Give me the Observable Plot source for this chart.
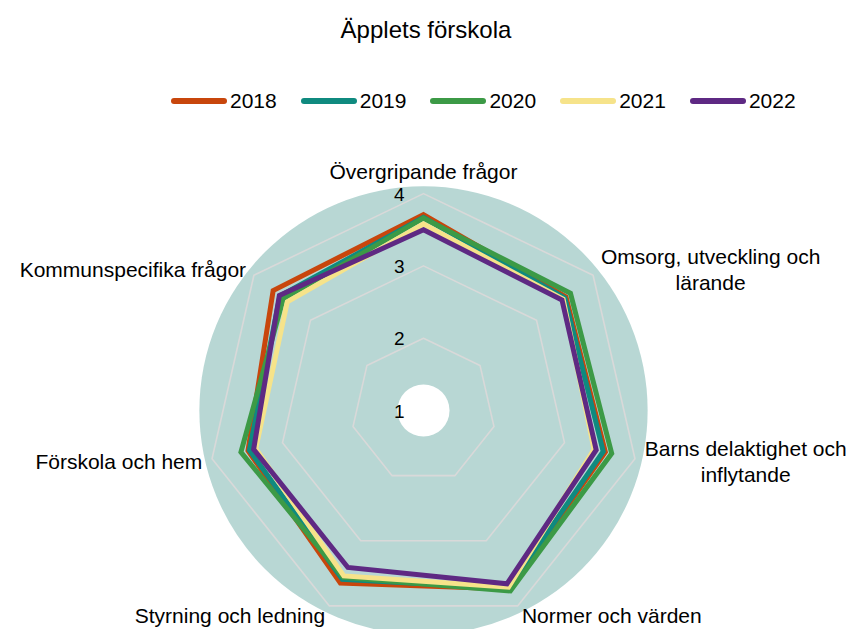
<!DOCTYPE html>
<html><head><meta charset="utf-8">
<script src="https://cdn.jsdelivr.net/npm/d3@7"></script>
<script src="https://cdn.jsdelivr.net/npm/@observablehq/plot@0.6"></script>
<style>
body{margin:0;background:#fff;font-family:"Liberation Sans",Arial,sans-serif;}
#wrap{position:relative;width:852px;height:629px;overflow:hidden;}
#title{position:absolute;top:16px;left:0;width:852px;text-align:center;font-size:24px;line-height:28px;color:#000;}
#legend{position:absolute;top:89px;left:171px;display:flex;align-items:center;font-size:21px;line-height:24px;color:#000;}
.item{display:flex;align-items:center;margin-right:24px;}
.sw{width:56px;height:6px;border-radius:3px;margin-right:3px;}
#chart{position:absolute;top:140px;left:0;}
</style></head><body>
<div id="wrap"><div id="title">Äpplets förskola</div><div id="legend"></div><div id="chart"></div></div>
<script>
const categories = ["Övergripande frågor","Omsorg, utveckling och lärande","Barns delaktighet och inflytande","Normer och värden","Styrning och ledning","Förskola och hem","Kommunspecifika frågor"];
const axisLabels = ["Övergripande frågor","Omsorg, utveckling och\nlärande","Barns delaktighet och\ninflytande","Normer och värden","Styrning och ledning","Förskola och hem","Kommunspecifika frågor"];
const years = ["2018","2019","2020","2021","2022"];
const values2018 = [3.71,3.52,3.58,3.74,3.65,3.49,3.66];
const values2019 = [3.67,3.50,3.55,3.73,3.59,3.47,3.54];
const values2020 = [3.66,3.60,3.67,3.77,3.56,3.59,3.48];
const values2021 = [3.58,3.47,3.42,3.71,3.54,3.38,3.41];
const values2022 = [3.50,3.45,3.45,3.66,3.41,3.41,3.55];
const colors = ["#C8460C","#0F8A7F","#3C9A46","#F6E38A","#5E2983"];
const ticks = [1,2,3,4];
const tickLabels = ["1","2","3","4"];
const rMin = 1, rMax = 4, bgOuter = 4.1, bgHole = 1.36;

const series = [values2018,values2019,values2020,values2021,values2022];
const W = 852, H = 489, cx = 423, cy = 270, k = 72.3;
const n = categories.length;
const ang = i => i * 2 * Math.PI / n;
const px = (v,i) => (v - rMin) * Math.sin(ang(i));
const py = (v,i) => (v - rMin) * Math.cos(ang(i));

// legend
const leg = document.getElementById("legend");
years.forEach((y,i)=>{
  const it = document.createElement("div"); it.className="item";
  const sw = document.createElement("div"); sw.className="sw"; sw.style.background=colors[i];
  const t = document.createElement("span"); t.textContent=y;
  it.append(sw,t); leg.append(it);
});

const rows = [];
years.forEach((y,s)=>series[s].forEach((v,i)=>rows.push({year:y, cat:categories[i], x:px(v,i), y:py(v,i)})));
const grid = [];
ticks.filter(t=>t>rMin).forEach(t=>categories.forEach((c,i)=>grid.push({t, x:px(t,i), y:py(t,i)})));

// axis labels
const FS = 21, LH = 1.2;
const ctx = document.createElement("canvas").getContext("2d");
ctx.font = `${FS}px "Liberation Sans", Arial, sans-serif`;
const labels = axisLabels.map((lab,i)=>{
  const lines = lab.split("\n");
  const w = Math.max(...lines.map(l=>ctx.measureText(l).width));
  const h = lines.length * FS * LH;
  const s = Math.sin(ang(i)), c = Math.cos(ang(i));
  let x = px(rMax,i) + 10/k * s, y = py(rMax,i) + 10/k * c;
  if (Math.abs(s) < 0.1) { y += (h/2)/k; }
  else { x += Math.sign(s) * (w/2)/k; }
  return {text: lab, x, y};
});

const chart = Plot.plot({
  width: W, height: H, margin: 0,
  x: {domain: [-cx/k, (W-cx)/k], range: [0, W], axis: null},
  y: {domain: [-(H-cy)/k, cy/k], range: [H, 0], axis: null},
  color: {domain: years, range: colors},
  style: {fontFamily: '"Liberation Sans", Arial, sans-serif', background: "transparent", overflow: "visible"},
  marks: [
    Plot.dot([{x:0,y:0}], {x:"x", y:"y", r:(bgOuter-rMin)*k, fill:"#B8D7D4", stroke:"none"}),
    Plot.dot([{x:0,y:0}], {x:"x", y:"y", r:(bgHole-rMin)*k, fill:"#ffffff", stroke:"none"}),
    Plot.line(grid, {x:"x", y:"y", z:"t", curve:"linear-closed", stroke:"#D9D9D9", strokeWidth:1.6}),
    Plot.line(rows, {x:"x", y:"y", z:"year", stroke:"year", curve:"linear-closed", strokeWidth:5, strokeLinejoin:"miter", strokeMiterlimit:10}),
    Plot.text(ticks, {x: ()=>0, y: t=>t-rMin, text: (t,i)=>tickLabels[i], textAnchor:"end", lineAnchor:"middle", dx:-19, dy:1, fontSize:19, fill:"#000"}),
    Plot.text(labels, {x:"x", y:"y", text:"text", textAnchor:"middle", lineAnchor:"middle", lineHeight:LH, fontSize:FS, fill:"#000"})
  ]
});
document.getElementById("chart").append(chart);
</script>
</body></html>
